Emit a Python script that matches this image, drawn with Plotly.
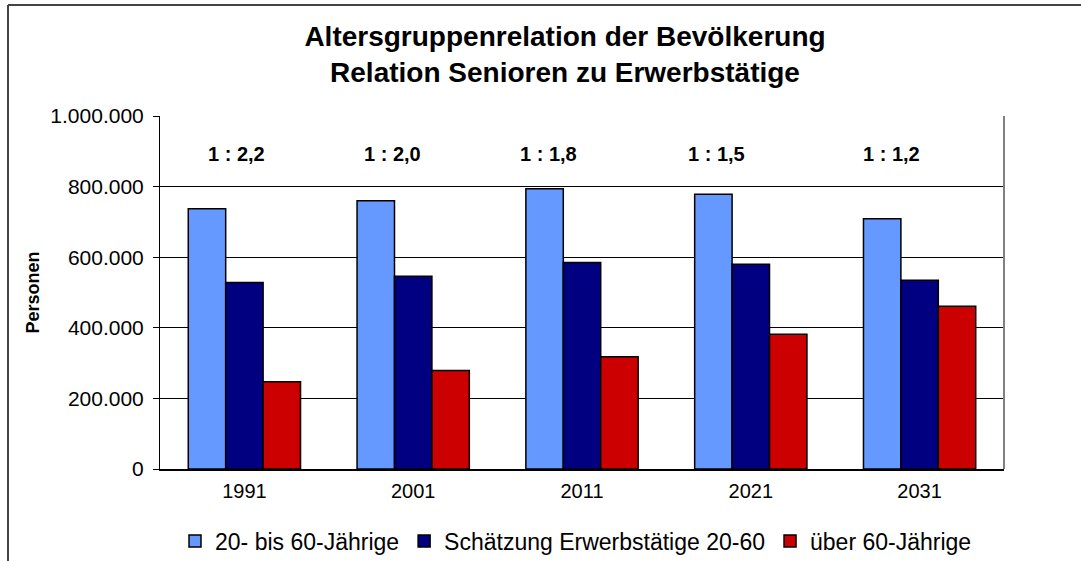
import plotly.graph_objects as go

years = ["1991", "2001", "2011", "2021", "2031"]
age_20_60 = [737000, 760000, 794000, 778000, 709000]
employed_est = [528000, 546000, 585000, 580000, 535000]
over_60 = [247000, 279000, 318000, 382000, 461000]
ratio_labels = ["1 : 2,2", "1 : 2,0", "1 : 1,8", "1 : 1,5", "1 : 1,2"]
series_names = ["20- bis 60-Jährige", "Schätzung Erwerbstätige 20-60", "über 60-Jährige"]
tick_vals = [0, 200000, 400000, 600000, 800000, 1000000]

colors = ["#6699FF", "#000080", "#CC0000"]
FONT = "Arial, Liberation Sans, sans-serif"

W, H = 1081, 561
L, R, T, B = 160, 77, 116, 92
pw, ph = W - L - R, H - T - B

fig = go.Figure()
for name, vals, c in zip(series_names, [age_20_60, employed_est, over_60], colors):
    fig.add_trace(go.Bar(x=years, y=vals, name=name,
                         marker=dict(color=c, line=dict(color="black", width=1.5))))

# ratio labels (manually placed text boxes in the original)
label_px = [236, 392, 548, 716, 891]
for txt, px in zip(ratio_labels, label_px):
    fig.add_annotation(x=(px - L) / pw, xref="paper", y=(H - B - 154) / ph, yref="paper",
                       text=f"<b>{txt}</b>", showarrow=False,
                       font=dict(family=FONT, size=20, color="black"),
                       xanchor="center", yanchor="middle")

# outer frame (cropped at right/bottom)
fig.add_shape(type="line", xref="paper", yref="paper",
              x0=(8 - L) / pw, x1=(W + 5 - L) / pw, y0=(H - B - 5) / ph, y1=(H - B - 5) / ph,
              line=dict(color="#444444", width=2))
fig.add_shape(type="line", xref="paper", yref="paper",
              x0=(8 - L) / pw, x1=(8 - L) / pw, y0=(H - B - 5) / ph, y1=(H - B - H - 5) / ph,
              line=dict(color="#444444", width=2))
# plot-area right border (grey)
fig.add_shape(type="line", xref="paper", yref="paper", x0=1, x1=1, y0=0, y1=1,
              line=dict(color="#808080", width=2))

fig.update_layout(
    width=W, height=H,
    margin=dict(l=L, r=R, t=T, b=B, autoexpand=False),
    paper_bgcolor="white", plot_bgcolor="white",
    separators=",.",
    barmode="group", bargap=0.335, bargroupgap=0,
    title=dict(text="<b>Altersgruppenrelation der Bevölkerung<br>Relation Senioren zu Erwerbstätige</b>",
               x=565 / W, xanchor="center", y=1 - 46 / H, yanchor="middle",
               font=dict(family=FONT, size=28, color="black")),
    font=dict(family=FONT, color="black"),
    showlegend=True,
    legend=dict(orientation="h", x=(576 - L) / pw, xanchor="center",
                y=(H - B - 541) / ph, yanchor="middle",
                font=dict(family=FONT, size=23, color="black"),
                itemwidth=30, tracegroupgap=0),
)
fig.update_yaxes(range=[0, 1000000], tickvals=tick_vals, tickformat=",d",
                 showgrid=True, gridcolor="black", gridwidth=1,
                 showline=True, linecolor="black", linewidth=1,
                 ticks="outside", ticklen=6, tickcolor="black", ticklabelstandoff=5,
                 tickfont=dict(family=FONT, size=21, color="black"),
                 title=dict(text="<b>Personen</b>", font=dict(family=FONT, size=18, color="black"),
                            standoff=6),
                 zeroline=False, automargin=False)
fig.update_xaxes(showline=True, linecolor="black", linewidth=1.5,
                 showgrid=False, ticks="", automargin=False, ticklabelstandoff=3,
                 tickfont=dict(family=FONT, size=20, color="black"))

fig.write_html("out.html", post_script="document.body.style.margin='0';",
               config={"displayModeBar": False})
